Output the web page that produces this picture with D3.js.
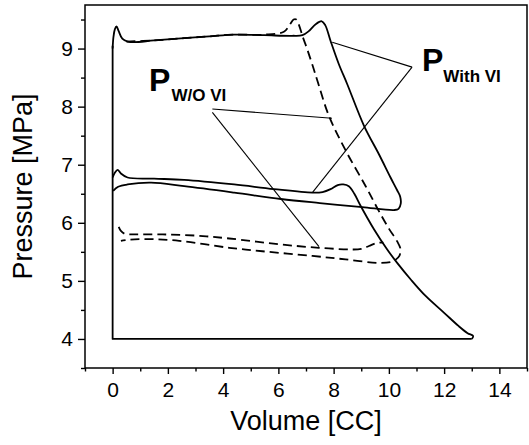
<!DOCTYPE html>
<html><head><meta charset="utf-8">
<script src="https://cdn.jsdelivr.net/npm/d3@7"></script>
<style>
body{margin:0;background:#fff;}
svg{display:block;}
text{font-family:"Liberation Sans",Arial,sans-serif;fill:#000;}
</style></head>
<body><svg id="c" width="529" height="445"></svg>
<script>
// ---- data (Volume [CC], Pressure [MPa]) ----
const xMajorTicks = [0,2,4,6,8,10,12,14];
const xMinorTicks = [-1,1,3,5,7,9,11,13,15];
const yMajorTicks = [4,5,6,7,8,9];
const yMinorTicks = [3.5,4.5,5.5,6.5,7.5,8.5,9.5];

const suctionLine = [[13.0,4.0],[0,4.0],[0,9.05]];

const withVI_high = [[0,9.0],[0.03,9.2],[0.08,9.33],[0.14,9.38],[0.22,9.3],[0.35,9.17],[0.55,9.12],[0.78,9.11],[1.5,9.14],[2.59,9.18],[3.5,9.21],[4.4,9.24],[5.5,9.23],[6.5,9.22],[6.87,9.23],[7.1,9.3],[7.35,9.42],[7.57,9.47],[7.7,9.4],[7.89,9.13],[8.19,8.73],[8.49,8.39],[9.10,7.67],[9.64,7.18],[10.06,6.78],[10.30,6.56],[10.41,6.45],[10.43,6.33],[10.35,6.24],[10.19,6.22],[9.04,6.27],[7.5,6.34],[6.09,6.41],[4.4,6.52],[2.59,6.63],[1.39,6.69],[0.54,6.66],[0.2,6.62],[0.02,6.55]];

const withVI_inj = [[0,6.78],[0.08,6.86],[0.18,6.91],[0.3,6.85],[0.54,6.78],[1.5,6.76],[2.59,6.74],[4.4,6.66],[5.84,6.58],[7.23,6.52],[7.6,6.53],[7.89,6.58],[8.15,6.65],[8.35,6.66],[8.55,6.63],[8.75,6.5],[8.98,6.29],[9.46,5.89],[9.94,5.54],[10.3,5.31],[10.8,5.02],[11.33,4.74],[12.0,4.45],[12.53,4.22],[12.85,4.1],[13.05,4.05],[13.0,4.0]];

const woVI_high = [[0.5,9.12],[1.5,9.14],[2.59,9.18],[3.5,9.21],[4.4,9.24],[5.5,9.24],[6.2,9.29],[6.4,9.4],[6.55,9.5],[6.65,9.5],[6.75,9.4],[6.87,9.22],[7.05,8.98],[7.23,8.72],[7.41,8.45],[7.83,7.84],[8.43,7.25],[9.16,6.63],[9.64,6.2],[10.0,5.9],[10.3,5.68],[10.42,5.55],[10.38,5.43],[10.26,5.37],[10.1,5.33],[9.64,5.31],[8.43,5.37],[7.23,5.43],[5.42,5.51],[4.22,5.57],[2.41,5.69],[1.21,5.72],[0.6,5.71],[0.3,5.69]];

const woVI_inj = [[0.22,5.93],[0.3,5.86],[0.45,5.81],[0.8,5.8],[1.81,5.8],[3.01,5.78],[4.22,5.73],[6.02,5.63],[7.47,5.57],[8.67,5.54],[9.0,5.55],[9.28,5.6],[9.55,5.65],[9.8,5.66]];

// annotation leader lines [from, to]
const withVI_leaders = [[[10.84,8.68],[7.95,9.11]],[[10.84,8.68],[7.23,6.52]]];
const woVI_leaders = [[[3.61,7.96],[7.94,7.80]],[[3.61,7.90],[7.47,5.59]]];
const labels = [
  {main:"P", sub:"With VI", at:[11.2,8.61], dx:0, dy:11},
  {main:"P", sub:"W/O VI", at:[1.32,8.27], dx:1, dy:10}
];

// ---- chart ----
const svg = d3.select("#c");
const L=85, R=527, T=5, B=368;
const x = d3.scaleLinear().domain([-1,15]).range([L,R]);
const y = d3.scaleLinear().domain([3.5,9.75]).range([B,T]);

const lineC = d3.line().x(d=>x(d[0])).y(d=>y(d[1])).curve(d3.curveCatmullRom.alpha(0.5));
const lineL = d3.line().x(d=>x(d[0])).y(d=>y(d[1]));

// axes
const gx = svg.append("g").attr("transform",`translate(0,${B})`);
gx.call(d3.axisBottom(x).tickValues(xMajorTicks).tickSize(6).tickPadding(8).tickFormat(d3.format("d")));
const gxm = svg.append("g").attr("transform",`translate(0,${B})`);
gxm.call(d3.axisBottom(x).tickValues(xMinorTicks).tickSize(3.5).tickFormat(""));
const gy = svg.append("g").attr("transform",`translate(${L},0)`);
gy.call(d3.axisLeft(y).tickValues(yMajorTicks).tickSize(7).tickPadding(5).tickFormat(d3.format("d")));
const gym = svg.append("g").attr("transform",`translate(${L},0)`);
gym.call(d3.axisLeft(y).tickValues(yMinorTicks).tickSize(4).tickFormat(""));
svg.selectAll(".domain").remove();
svg.selectAll(".tick line").attr("stroke","#000").attr("stroke-width",1.4);
svg.selectAll(".tick text").style("font-size","21px").attr("fill","#000");

svg.append("rect").attr("x",L).attr("y",T).attr("width",R-L).attr("height",B-T)
  .attr("fill","none").attr("stroke","#000").attr("stroke-width",1.5);

svg.append("text").attr("x",x(7)).attr("y",430).attr("text-anchor","middle")
  .style("font-size","27px").text("Volume [CC]");
svg.append("text").attr("transform",`translate(32,${(T+B)/2}) rotate(-90)`).attr("text-anchor","middle")
  .style("font-size","27px").text("Pressure [MPa]");

// curves
const g = svg.append("g").attr("fill","none").attr("stroke","#000").attr("stroke-linejoin","round");
g.append("path").attr("d",lineL(suctionLine)).attr("stroke-width",1.8);
g.append("path").attr("d",lineC(withVI_high)).attr("stroke-width",1.8);
g.append("path").attr("d",lineC(withVI_inj)).attr("stroke-width",1.8);
g.append("path").attr("d",lineC(woVI_high)).attr("stroke-width",1.8).attr("stroke-dasharray","9,5");
g.append("path").attr("d",lineC(woVI_inj)).attr("stroke-width",1.8).attr("stroke-dasharray","9,5");

withVI_leaders.concat(woVI_leaders).forEach(s=>{
  g.append("path").attr("d",lineL(s)).attr("stroke-width",1.1);
});

labels.forEach(l=>{
  const t = svg.append("text").attr("x",x(l.at[0])).attr("y",y(l.at[1])).style("font-weight","bold");
  t.append("tspan").style("font-size","32px").text(l.main);
  t.append("tspan").style("font-size","17px").attr("dy",l.dy).attr("dx",l.dx).text(l.sub);
});
</script></body></html>
